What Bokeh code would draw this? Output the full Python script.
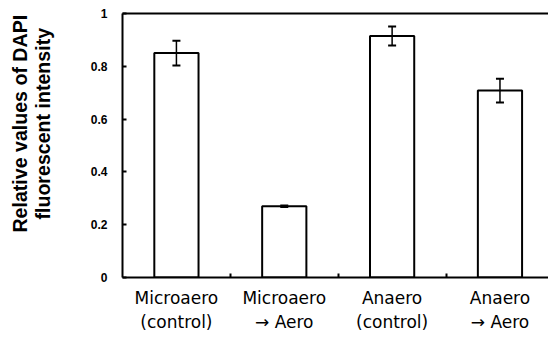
from bokeh.plotting import figure
from bokeh.models import (ColumnDataSource, Whisker, TeeHead, FixedTicker,
                          LinearAxis, Range1d)
from bokeh.embed import file_html
from bokeh.resources import INLINE

categories = ["Microaero\n(control)", "Microaero\n\u2192 Aero",
              "Anaero\n(control)", "Anaero\n\u2192 Aero"]
means = [0.85, 0.27, 0.915, 0.708]
errors = [0.047, 0.003, 0.036, 0.045]
y_ticks = [0, 0.2, 0.4, 0.6, 0.8, 1]
y_tick_labels = ["0", "0.2", "0.4", "0.6", "0.8", "1"]
y_title_lines = ["Relative values of DAPI", "fluorescent intensity"]

xs = [i + 0.5 for i in range(len(categories))]
src = ColumnDataSource(dict(
    x=xs, top=means,
    upper=[m + e for m, e in zip(means, errors)],
    lower=[m - e for m, e in zip(means, errors)],
))

p = figure(width=548, height=338, x_range=Range1d(0, 3.95), y_range=Range1d(0, 1),
           output_backend="svg", toolbar_location=None, title=None,
           min_border_left=122, min_border_right=0, min_border_top=13,
           min_border_bottom=61)
p.xgrid.grid_line_color = None
p.ygrid.grid_line_color = None
p.outline_line_color = None
p.background_fill_color = "white"

p.vbar(x="x", top="top", width=0.41, source=src, fill_color="white",
       line_color="black", line_width=2)

w = Whisker(base="x", upper="upper", lower="lower", source=src,
            line_color="black", line_width=1.5, level="overlay",
            upper_head=TeeHead(size=8, line_width=2, line_color="black"),
            lower_head=TeeHead(size=8, line_width=2, line_color="black"))
p.add_layout(w)

# y axis
pad = "\u00a0" * 8
ya = p.yaxis[0]
ya.ticker = FixedTicker(ticks=y_ticks, minor_ticks=[])
ya.major_label_overrides = {t: l for t, l in zip(y_ticks, y_tick_labels)}
ya.axis_line_width = 2
ya.major_tick_in = 4
ya.major_tick_out = 0
ya.major_tick_line_width = 2
ya.minor_tick_in = 0
ya.minor_tick_out = 0
ya.major_label_standoff = 15
ya.major_label_text_font = "Liberation Sans"
ya.major_label_text_font_style = "bold"
ya.major_label_text_font_size = "12px"
ya.major_label_text_color = "black"
ya.axis_label = "\n".join(pad + s for s in y_title_lines)
ya.axis_label_text_font = "Liberation Sans"
ya.axis_label_text_font_style = "bold"
ya.axis_label_text_font_size = "19.6px"
ya.axis_label_text_line_height = 1.05
ya.axis_label_text_color = "black"
ya.axis_label_standoff = 34

# x axis
xa = p.xaxis[0]
xa.ticker = FixedTicker(ticks=xs, minor_ticks=[1, 2, 3])
xa.major_label_overrides = {x: c for x, c in zip(xs, categories)}
xa.axis_line_width = 2
xa.major_tick_in = 0
xa.major_tick_out = 0
xa.minor_tick_in = 4
xa.minor_tick_out = 0
xa.minor_tick_line_width = 2
xa.major_label_standoff = 10
xa.major_label_text_font = "DejaVu Sans"
xa.major_label_text_font_size = "17px"
xa.major_label_text_color = "black"

# top frame line
top = LinearAxis(ticker=FixedTicker(ticks=[], minor_ticks=[]),
                 major_label_text_font_size="0px", axis_line_width=2,
                 major_tick_in=0, major_tick_out=0,
                 minor_tick_in=0, minor_tick_out=0)
p.add_layout(top, "above")

open("out.html", "w").write(file_html(p, INLINE))
